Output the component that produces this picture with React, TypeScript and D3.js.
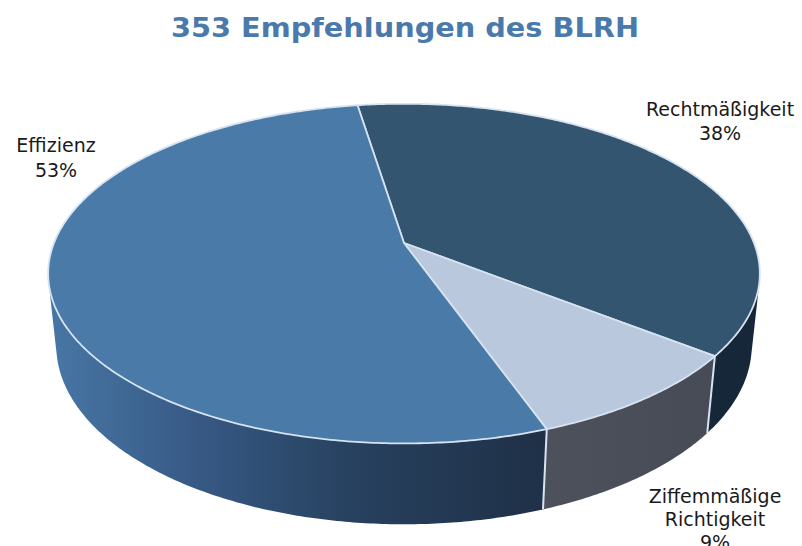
import React from "react";
import * as d3 from "d3";

const title = "353 Empfehlungen des BLRH";
const categories = ["Rechtmäßigkeit", "Ziffemmäßige Richtigkeit", "Effizienz"];
const labelLines = [["Rechtmäßigkeit"], ["Ziffemmäßige", "Richtigkeit"], ["Effizienz"]];
const values = [38, 9, 53];

const W = 802, H = 546;
const topColors = ["#34556f", "#b9c8dc", "#4a7aa8"];
const sideColors = ["#16273a", "url(#zifSide)", "url(#effSide)"];
const labelPos: [number, number][] = [[720, 116], [715, 503], [56, 152]];
const lineGap = [24, 23, 25];

const cx = 404, cy = 243;
const K = 1715, D = 4.9;
const alpha = (28 * Math.PI) / 180;
const sa = Math.sin(alpha), ca = Math.cos(alpha);
const T = 0.235;
const startDeg = -9.0;

function proj(theta: number, h: number): [number, number] {
  const x = Math.sin(theta), y = -Math.cos(theta);
  const z = D - y * ca - h * sa;
  const v = -y * sa + h * ca;
  return [cx + (K * x) / z, cy - (K * v) / z];
}

function arcPts(a0: number, a1: number, h: number): [number, number][] {
  const n = Math.max(2, Math.ceil(Math.abs(a1 - a0) / 0.01));
  return d3.range(n + 1).map((i) => proj(a0 + ((a1 - a0) * i) / n, h));
}

export default function App() {
  const start = (startDeg * Math.PI) / 180;
  const pie = d3.pie<number>().sort(null).value((d) => d).startAngle(start).endAngle(start + 2 * Math.PI);
  const arcs = pie(values);
  const line = d3.line<[number, number]>();
  const vis = Math.acos(-1 / (D * ca));
  const v0 = vis, v1 = 2 * Math.PI - vis;

  const sides = arcs.map((a, i) => {
    const s = Math.max(a.startAngle, v0), e = Math.min(a.endAngle, v1);
    if (e <= s) return null;
    const pts = [...arcPts(s, e, 0), ...arcPts(e, s, -T)];
    return <path key={"s" + i} d={line(pts) + "Z"} fill={sideColors[i]} />;
  });

  const sepLines = arcs.map((a, i) => {
    const ang = a.endAngle;
    if (ang <= v0 || ang >= v1) return null;
    const p0 = proj(ang, 0), p1 = proj(ang, -T);
    return <line key={"l" + i} x1={p0[0]} y1={p0[1]} x2={p1[0]} y2={p1[1]} stroke="#d6e3f1" strokeWidth={2} />;
  });

  const tops = arcs.map((a, i) => {
    const apex: [number, number] = [cx, cy];
    const all = [apex, ...arcPts(a.startAngle, a.endAngle, 0)];
    return <path key={"t" + i} d={line(all) + "Z"} fill={topColors[i]} stroke="#d6e3f1" strokeWidth={1.8} strokeLinejoin="round" />;
  });

  const effL = proj(v1, -T), effR = proj(arcs[2].startAngle, 0);
  const zL = proj(arcs[1].startAngle, 0), zR = proj(arcs[1].endAngle, 0);

  return (
    <svg width={W} height={H} style={{ position: "absolute", left: 0, top: 0 }}>
      <defs>
        <linearGradient id="effSide" gradientUnits="userSpaceOnUse" x1={effL[0]} y1={0} x2={effR[0]} y2={0}>
          <stop offset="0" stopColor="#4775a4" />
          <stop offset="0.3" stopColor="#365883" />
          <stop offset="0.6" stopColor="#27415f" />
          <stop offset="1" stopColor="#1f3047" />
        </linearGradient>
        <linearGradient id="zifSide" gradientUnits="userSpaceOnUse" x1={zR[0]} y1={0} x2={zL[0]} y2={0}>
          <stop offset="0" stopColor="#4d515b" />
          <stop offset="1" stopColor="#474b55" />
        </linearGradient>
      </defs>
      <rect width={W} height={H} fill="#ffffff" />
      <text x={405} y={37} textAnchor="middle" fontFamily="DejaVu Sans" fontWeight="bold" fontSize={27} fill="#4a7aab" textLength={468} lengthAdjust="spacingAndGlyphs">
        {title}
      </text>
      {sides}
      {sepLines}
      {tops}
      {categories.map((c, i) => {
        const lines = [...labelLines[i], `${values[i]}%`];
        return (
          <text key={c} x={labelPos[i][0]} y={labelPos[i][1]} textAnchor="middle" fontFamily="DejaVu Sans" fontSize={19} fill="#1a1a1a">
            {lines.map((l, j) => (
              <tspan key={j} x={labelPos[i][0]} dy={j === 0 ? 0 : lineGap[i]}>{l}</tspan>
            ))}
          </text>
        );
      })}
    </svg>
  );
}
